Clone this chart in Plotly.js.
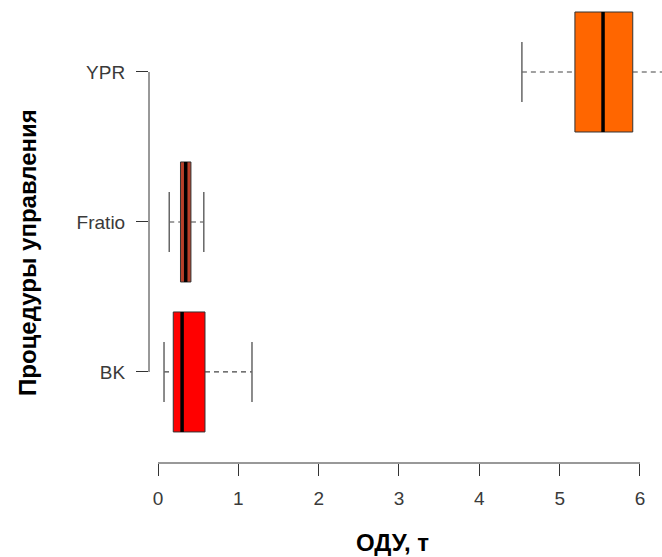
<!DOCTYPE html>
<html>
<head>
<meta charset="utf-8">
<script src="https://cdn.plot.ly/plotly-3.0.1.min.js"></script>
<style>html,body{margin:0;padding:0;background:#fff;}#chart{width:662px;height:557px;}</style>
</head>
<body>
<div id="chart"></div>
<script>
// Data
var categories = ["BK", "Fratio", "YPR"];
var positions = [1, 2, 3];
var lowerWhisker = [0.075, 0.14, 4.53];
var q1Values = [0.19, 0.28, 5.19];
var medianValues = [0.30, 0.345, 5.54];
var q3Values = [0.585, 0.41, 5.91];
var upperWhisker = [1.17, 0.57, 6.5];
var fillColors = ["#FF0000", "#B8402A", "#FF6600"];
var xTicks = [0, 1, 2, 3, 4, 5, 6];
var xTitle = "ОДУ, т";
var yTitle = "Процедуры управления";

var boxHalf = 0.4, capHalf = 0.2;
var traces = [];
for (var i = 0; i < categories.length; i++) {
  var p = positions[i];
  traces.push({type: "scatter", mode: "lines", x: [lowerWhisker[i], q1Values[i]], y: [p, p],
    line: {color: "#444", width: 1.2, dash: "5px,4px"}, hoverinfo: "skip", showlegend: false});
  traces.push({type: "scatter", mode: "lines", x: [q3Values[i], upperWhisker[i]], y: [p, p],
    line: {color: "#444", width: 1.2, dash: "5px,4px"}, hoverinfo: "skip", showlegend: false});
  traces.push({type: "scatter", mode: "lines", x: [lowerWhisker[i], lowerWhisker[i]], y: [p - capHalf, p + capHalf],
    line: {color: "#666", width: 1.5}, hoverinfo: "skip", showlegend: false});
  traces.push({type: "scatter", mode: "lines", x: [upperWhisker[i], upperWhisker[i]], y: [p - capHalf, p + capHalf],
    line: {color: "#666", width: 1.5}, hoverinfo: "skip", showlegend: false});
  traces.push({type: "box", orientation: "h", y: [p], name: categories[i],
    q1: [q1Values[i]], median: [medianValues[i]], q3: [q3Values[i]],
    lowerfence: [q1Values[i]], upperfence: [q3Values[i]],
    width: 2 * boxHalf, whiskerwidth: 0, boxpoints: false,
    fillcolor: fillColors[i], line: {color: "#333", width: 1}, showlegend: false});
  traces.push({type: "scatter", mode: "lines", x: [medianValues[i], medianValues[i]], y: [p - boxHalf, p + boxHalf],
    line: {color: "#000", width: 3.5}, hoverinfo: "skip", showlegend: false});
}

var layout = {
  width: 662, height: 557,
  margin: {l: 149, r: 0, t: 0, b: 94},
  paper_bgcolor: "#fff", plot_bgcolor: "#fff",
  font: {family: "Liberation Sans, Arial, sans-serif", color: "#333"},
  xaxis: {range: [-0.112, 6.274], tickvals: xTicks, ticktext: xTicks.map(String),
    ticks: "outside", ticklen: 12, tickcolor: "#333", tickwidth: 1, ticklabelstandoff: 6,
    showline: false, showgrid: false, zeroline: false,
    tickfont: {size: 19, color: "#3a3a3a"}},
  yaxis: {range: [0.393, 3.48], tickvals: positions, ticktext: categories,
    ticks: "outside", ticklen: 12, tickcolor: "#333", tickwidth: 1, ticklabelstandoff: 7,
    showline: false, showgrid: false, zeroline: false,
    tickfont: {size: 19, color: "#3a3a3a"}},
  shapes: [
    {type: "line", xref: "x", yref: "paper", x0: xTicks[0], x1: xTicks[xTicks.length - 1], y0: 0, y1: 0,
      line: {color: "#333", width: 1}},
    {type: "line", xref: "paper", yref: "y", x0: 0, x1: 0, y0: positions[0], y1: positions[positions.length - 1],
      line: {color: "#333", width: 1}}
  ],
  annotations: [
    {text: yTitle, textangle: -90, xref: "paper", yref: "paper",
      x: (27 - 149) / 513, y: 1 - 253 / 463, xanchor: "center", yanchor: "middle", showarrow: false,
      font: {size: 24, color: "#000", weight: "bold"}},
    {text: xTitle, xref: "paper", yref: "paper",
      x: (392 - 149) / 513, y: (463 - 542) / 463, xanchor: "center", yanchor: "middle", showarrow: false,
      font: {size: 24, color: "#000", weight: "bold"}}
  ]
};
Plotly.newPlot("chart", traces, layout, {displayModeBar: false, staticPlot: true});
</script>
</body>
</html>
